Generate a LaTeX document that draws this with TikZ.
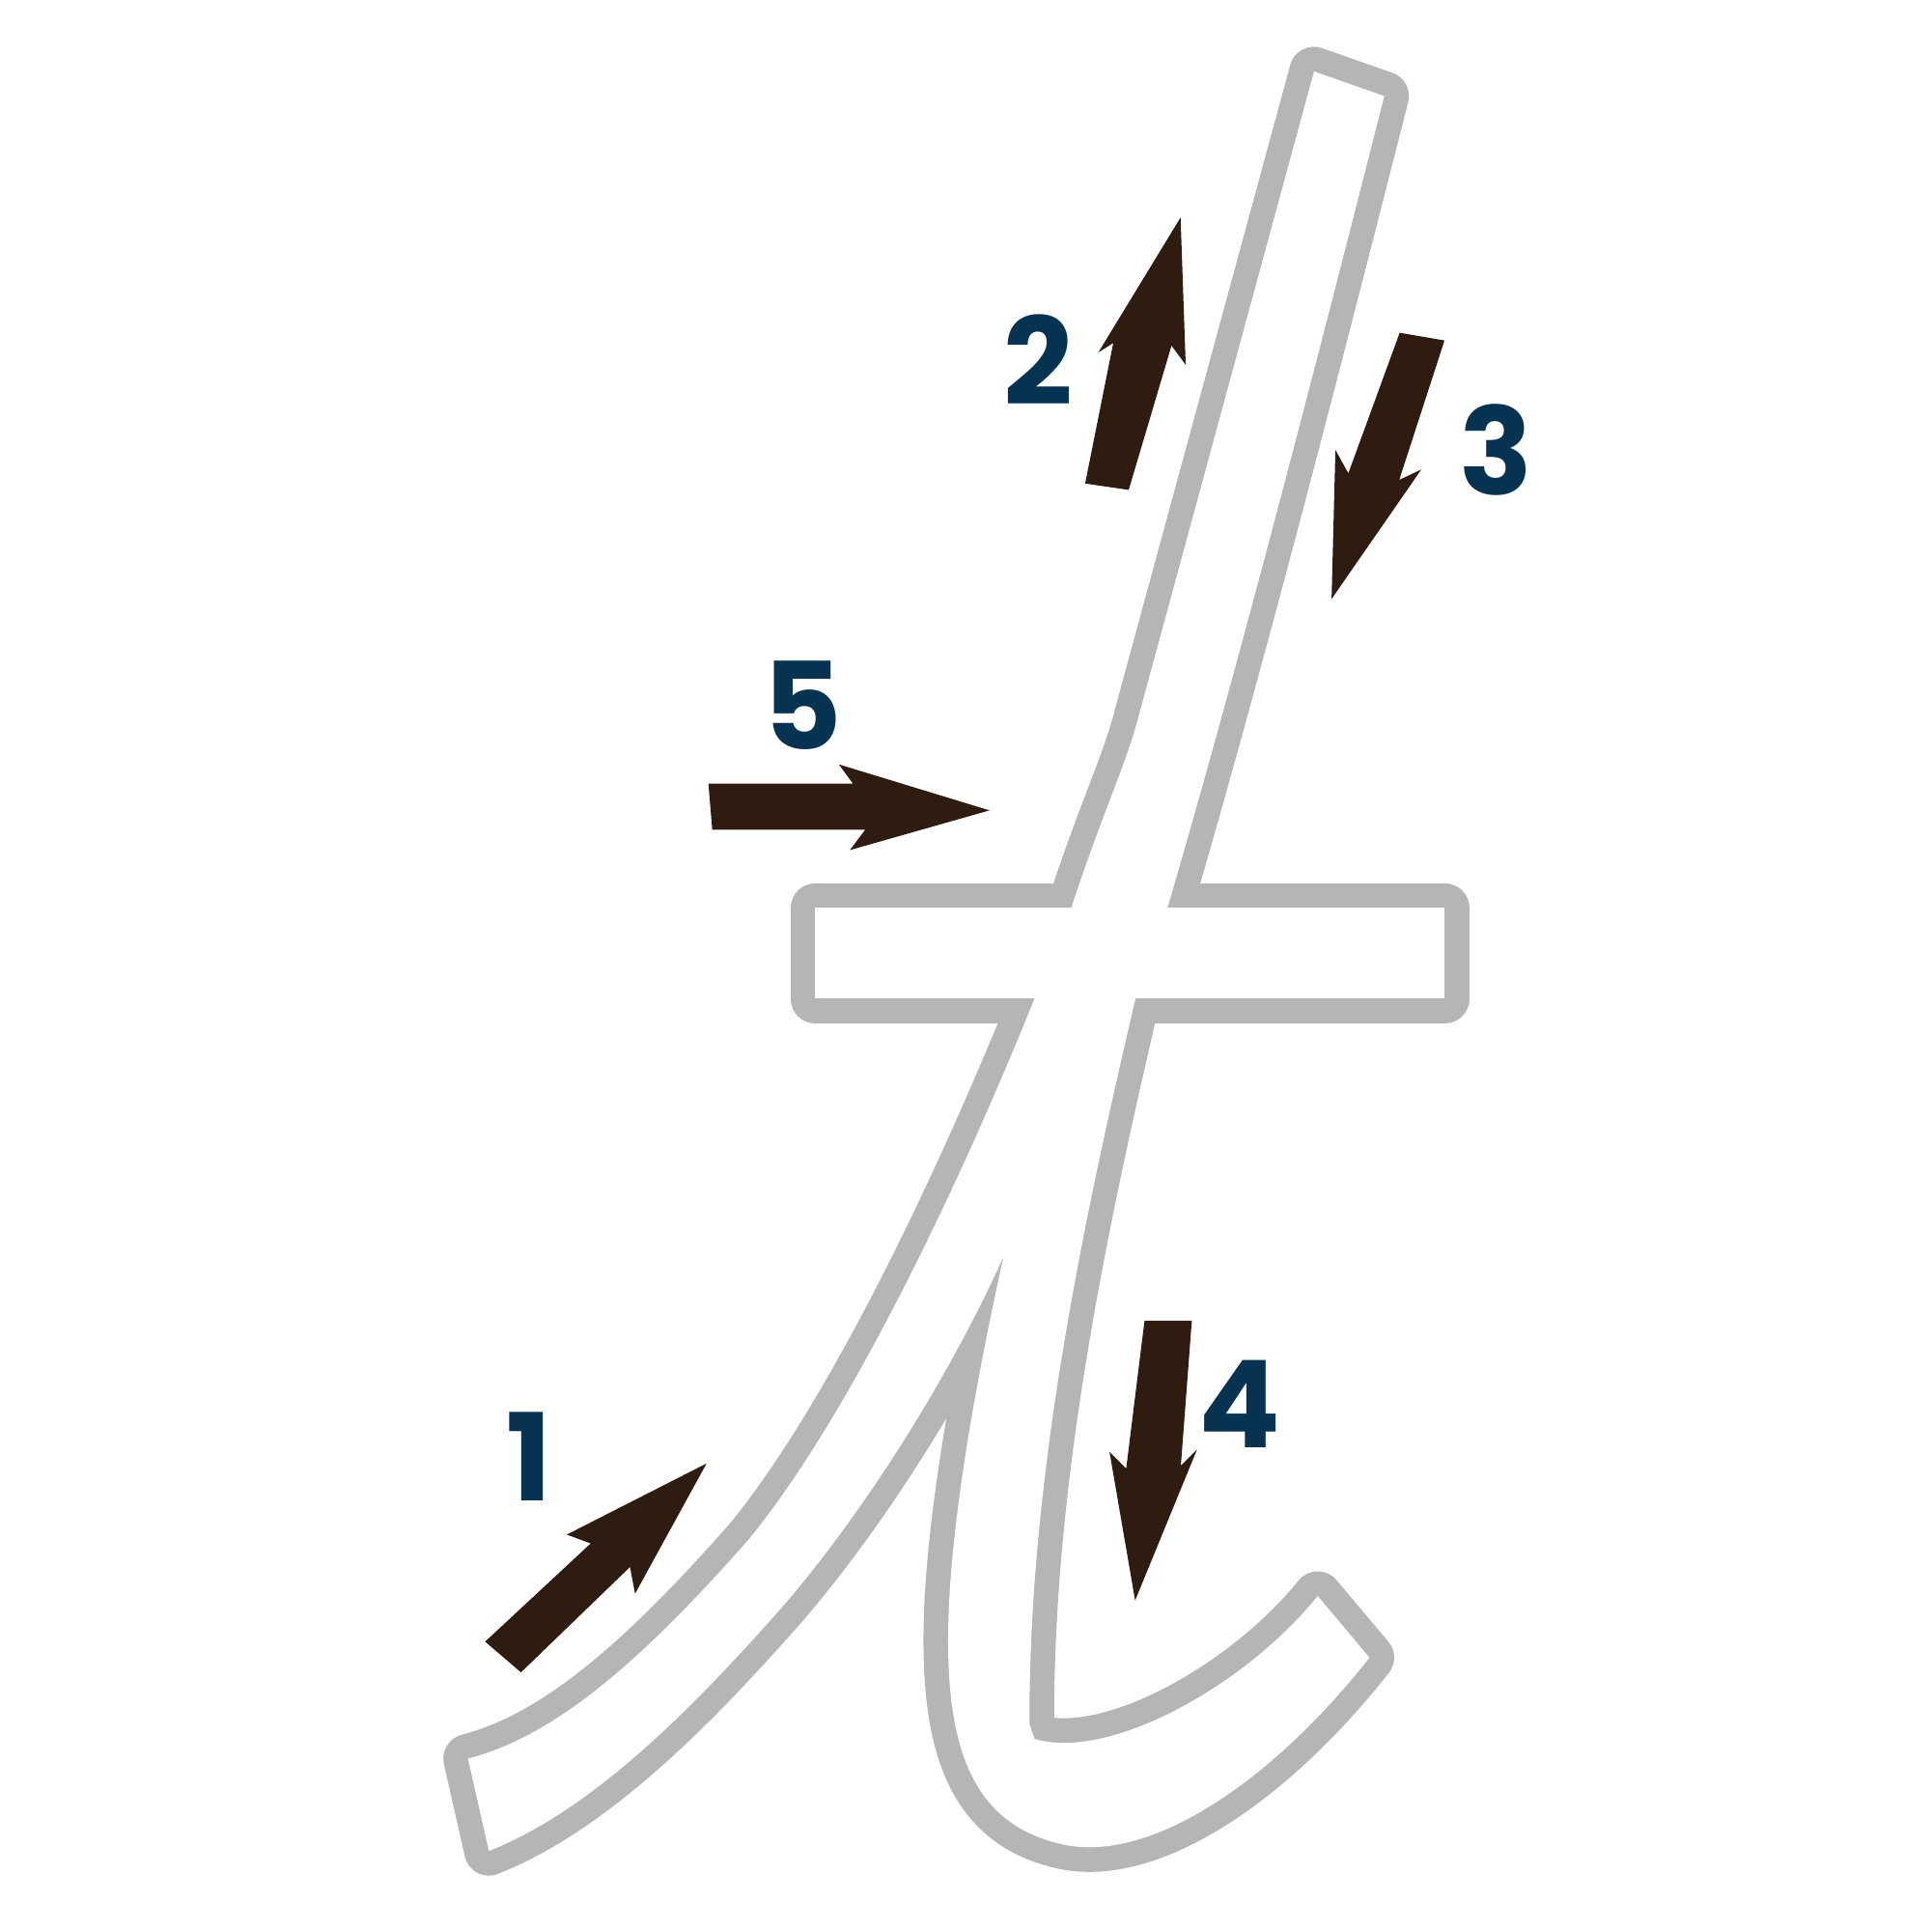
\documentclass[tikz,border=0pt]{standalone}
\usepackage{fontspec}
\newfontfamily\numfont{Poppins}
\definecolor{outl}{HTML}{B5B5B5}
\definecolor{arr}{HTML}{2E1C10}
\definecolor{num}{HTML}{073352}
\begin{document}
\begin{tikzpicture}[x=0.01cm,y=-0.01cm,line join=round,
  arrowshape/.style={fill=arr,draw=arr,line width=0.4pt,line join=miter},
  digit/.style={text=num,font=\numfont\bfseries\fontsize{28}{28}\selectfont,inner sep=0pt}]
\useasboundingbox (0,0) rectangle (1568,1568);
\fill[white] (0,0) rectangle (1568,1568);
\def\letterpath{(1067,58) -- (1124,78)
 .. controls (1060,330) and (1000,560) .. (948,737)
 -- (922,811)
 .. controls (880,990) and (835,1200) .. (836,1400)
 -- (840,1412)
 .. controls (900,1430) and (1010,1370) .. (1070,1296)
 -- (1112,1346)
 .. controls (1030,1450) and (930,1515) .. (860,1497)
 .. controls (790,1480) and (768,1420) .. (770,1320)
 .. controls (772,1230) and (795,1110) .. (815,1020)
 .. controls (770,1120) and (700,1230) .. (635,1305)
 .. controls (560,1390) and (480,1470) .. (397,1503)
 -- (380,1428)
 .. controls (450,1410) and (520,1350) .. (608,1250)
 .. controls (690,1150) and (780,960) .. (840,811)
 -- (870,737)
 .. controls (895,660) and (915,620) .. (925,580)
 -- cycle}
\def\barpath{(662,737) rectangle (1173,811)}
% outlines (outer half stays visible)
\draw[outl,line width=0.4cm] \letterpath;
\draw[outl,line width=0.4cm] \barpath;
\fill[white] \letterpath;
\fill[white] \barpath;
% arrows
\path[arrowshape] (395,1333) -- (481,1253) -- (462,1246) -- (572,1190) -- (516,1292) -- (512,1271) -- (423,1357) -- cycle;
\path[arrowshape] (882,392) -- (905,277) -- (894,284) -- (958,179) -- (962,294) -- (951,279) -- (916,397) -- cycle;
\path[arrowshape] (1137,271) -- (1172,277) -- (1135,391) -- (1152,383) -- (1082,484) -- (1085,368) -- (1095,386) -- cycle;
\path[arrowshape] (930,1073) -- (967,1073) -- (958,1192) -- (970,1180) -- (922,1297) -- (902,1181) -- (915,1194) -- cycle;
\path[arrowshape] (576,637) -- (694,637) -- (683,622) -- (801,658) -- (692,689) -- (704,673) -- (579,673) -- cycle;
% numbers
\node[digit] (n1) at (430,1183) {1};
\node[digit] (n2) at (843,292) {2};
\node[digit] (n3) at (1215,365) {3};
\node[digit] (n4) at (1007,1140) {4};
\node[digit] (n5) at (652,573) {5};
\end{tikzpicture}
\end{document}
